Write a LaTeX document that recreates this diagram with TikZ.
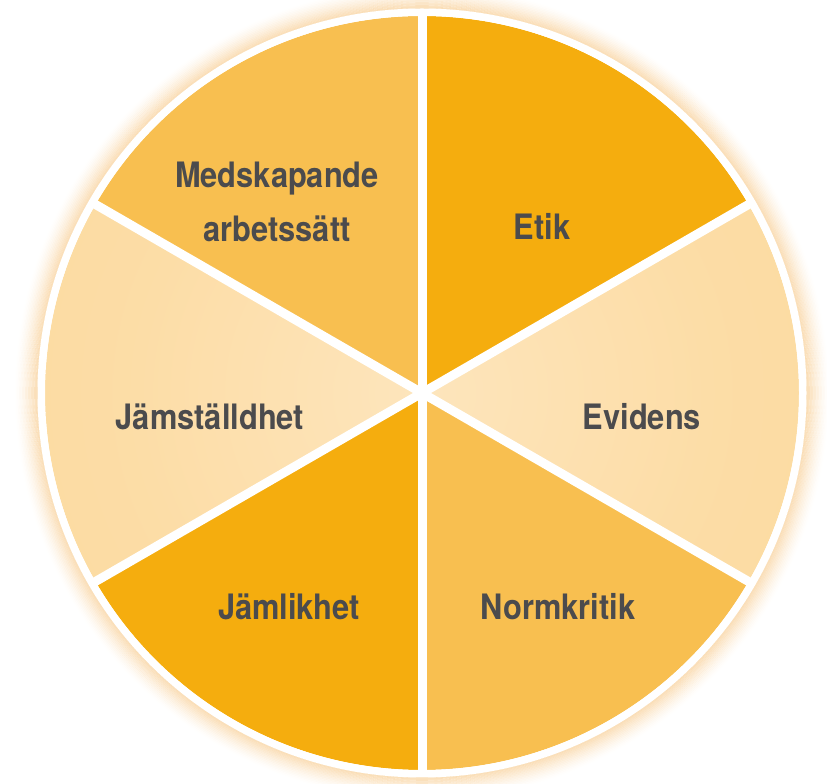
\documentclass[tikz,border=0pt]{standalone}
\usepackage{fontspec}
\setmainfont{TeX Gyre Heros}[FakeStretch=0.88]
\definecolor{darkseg}{HTML}{F5AD0E}
\definecolor{midseg}{HTML}{F8BF50}
\definecolor{lightseg}{HTML}{FCD797}
\definecolor{lightcore}{HTML}{FDE5BC}
\definecolor{glowc}{HTML}{F9D6A6}
\definecolor{txt}{HTML}{4B4B4D}
\pgfdeclareradialshading{lightshade}{\pgfpoint{0bp}{0bp}}{color(0bp)=(lightcore); color(20bp)=(lightseg!60!lightcore); color(50bp)=(lightseg)}
\tikzset{
  lbl/.style={anchor=base, text=txt, font=\fontsize{35}{54}\selectfont\bfseries, align=center, inner sep=0pt},
  spoke/.style={draw=white, line width=9pt},
}
\begin{document}
\begin{tikzpicture}[x=1pt,y=1pt]
\useasboundingbox (0,0) rectangle (827,784);
\coordinate (c) at (422,391);
% glow
\foreach \i in {0,...,15} {
  \pgfmathsetmacro{\op}{0.85*(1-\i/16)^1.6}
  \pgfmathsetmacro{\rr}{384+\i*1.5}
  \draw[glowc, draw opacity=\op, line width=1.6pt] (c) circle (\rr);
}
% sectors
\fill[darkseg] (c) -- ++(30:377) arc[start angle=30, end angle=90, radius=377] -- cycle;
\fill[midseg]  (c) -- ++(90:377) arc[start angle=90, end angle=150, radius=377] -- cycle;
\begin{scope}
  \clip (c) -- ++(150:377) arc[start angle=150, end angle=210, radius=377] -- cycle;
  \shade[shading=lightshade] (c) circle (377);
\end{scope}
\fill[darkseg] (c) -- ++(210:377) arc[start angle=210, end angle=270, radius=377] -- cycle;
\fill[midseg]  (c) -- ++(270:377) arc[start angle=270, end angle=330, radius=377] -- cycle;
\begin{scope}
  \clip (c) -- ++(-30:377) arc[start angle=-30, end angle=30, radius=377] -- cycle;
  \shade[shading=lightshade] (c) circle (377);
\end{scope}
% spokes
\foreach \a in {30,90,150,210,270,330}
  \draw[spoke] (c) -- ++(\a:380);
% white ring
\fill[white, even odd rule] (c) circle (384.5) (c) circle (377);
% labels
\node[lbl] (med) at (277,542.5) {Medskapande\\arbetssätt};
\node[lbl] (etik) at (542,544) {Etik};
\node[lbl] (jamst) at (210,354) {Jämställdhet};
\node[lbl] (evid) at (642,354) {Evidens};
\node[lbl] (jaml) at (289,164) {Jämlikhet};
\node[lbl] (norm) at (558,164) {Normkritik};
\end{tikzpicture}
\end{document}
